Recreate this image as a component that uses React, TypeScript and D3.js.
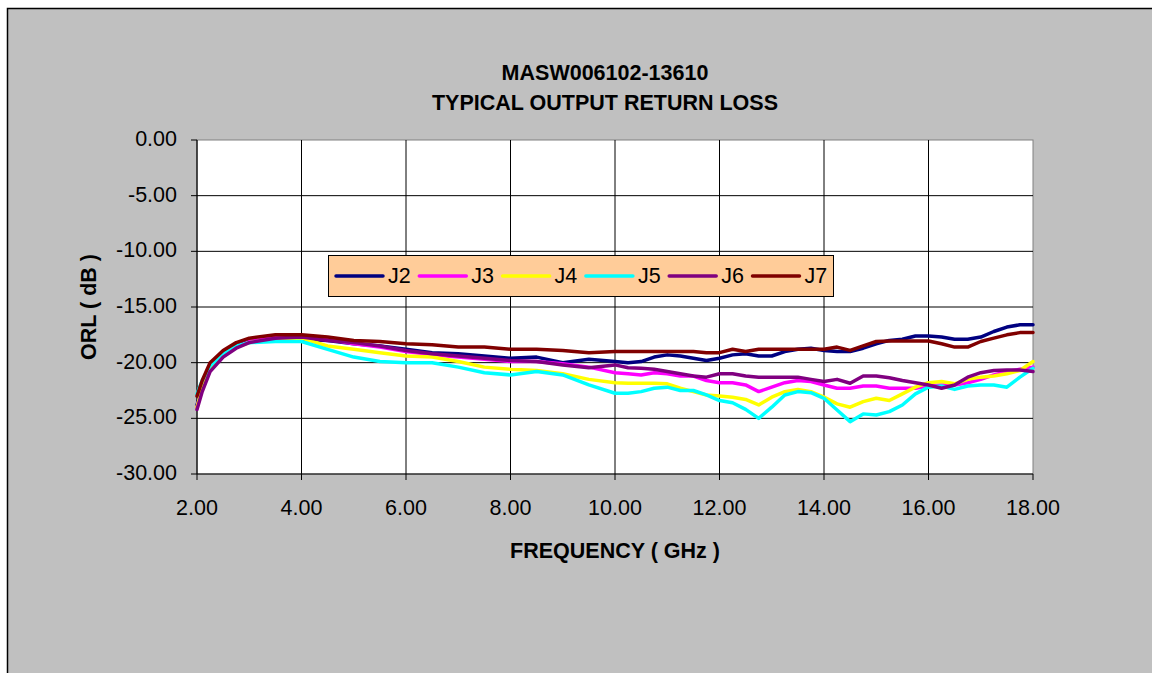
import React from "react";
import * as d3 from "d3";

const freqs = [2.0, 2.1, 2.25, 2.5, 2.75, 3.0, 3.5, 4.0, 4.5, 5.0, 5.5, 6.0, 6.5, 7.0, 7.5, 8.0, 8.5, 9.0, 9.5, 10.0, 10.25, 10.5, 10.75, 11.0, 11.25, 11.5, 11.75, 12.0, 12.25, 12.5, 12.75, 13.0, 13.25, 13.5, 13.75, 14.0, 14.25, 14.5, 14.75, 15.0, 15.25, 15.5, 15.75, 16.0, 16.25, 16.5, 16.75, 17.0, 17.25, 17.5, 17.75, 18.0];

const j2 = [-23.8, -22.2, -20.4, -19.2, -18.5, -18.1, -17.9, -17.9, -18.0, -18.3, -18.5, -18.8, -19.1, -19.2, -19.4, -19.6, -19.5, -20.0, -19.7, -19.9, -20.0, -19.9, -19.5, -19.3, -19.4, -19.6, -19.8, -19.6, -19.3, -19.2, -19.4, -19.4, -19.0, -18.8, -18.7, -18.9, -19.0, -19.0, -18.7, -18.3, -18.0, -17.9, -17.6, -17.6, -17.7, -17.9, -17.9, -17.7, -17.2, -16.8, -16.6, -16.6];
const j3 = [-24.0, -22.3, -20.5, -19.3, -18.6, -18.1, -17.7, -17.6, -17.9, -18.3, -18.6, -19.0, -19.3, -19.5, -19.7, -19.9, -19.9, -20.1, -20.4, -20.9, -21.0, -21.1, -20.9, -21.0, -21.2, -21.2, -21.6, -21.8, -21.8, -22.0, -22.6, -22.2, -21.8, -21.6, -21.7, -22.0, -22.3, -22.3, -22.1, -22.1, -22.3, -22.3, -22.3, -22.1, -22.0, -22.0, -21.8, -21.5, -21.1, -20.8, -20.6, -20.4];
const j4 = [-24.0, -22.3, -20.5, -19.3, -18.6, -18.2, -17.9, -17.8, -18.5, -18.8, -19.1, -19.4, -19.5, -19.9, -20.4, -20.6, -20.7, -21.0, -21.5, -21.8, -21.85, -21.85, -21.85, -21.9, -22.3, -22.6, -22.9, -23.0, -23.1, -23.3, -23.8, -23.1, -22.6, -22.4, -22.6, -23.1, -23.7, -24.0, -23.5, -23.2, -23.4, -22.8, -22.2, -21.8, -21.7, -21.9, -21.5, -21.3, -21.2, -21.0, -20.7, -19.9];
const j5 = [-22.8, -21.6, -20.3, -19.2, -18.5, -18.2, -18.1, -18.1, -18.8, -19.5, -19.9, -20.0, -20.0, -20.4, -20.9, -21.1, -20.8, -21.1, -22.0, -22.75, -22.75, -22.6, -22.3, -22.2, -22.5, -22.5, -22.9, -23.4, -23.6, -24.2, -25.0, -24.0, -22.9, -22.6, -22.7, -23.2, -24.25, -25.3, -24.6, -24.7, -24.4, -23.8, -22.8, -22.2, -22.1, -22.4, -22.1, -22.0, -22.0, -22.2, -21.3, -20.5];
const j6 = [-24.2, -22.6, -20.8, -19.5, -18.7, -18.2, -17.8, -17.7, -18.0, -18.2, -18.5, -18.9, -19.2, -19.4, -19.6, -19.8, -19.9, -20.2, -20.45, -20.2, -20.45, -20.5, -20.6, -20.8, -21.0, -21.2, -21.3, -21.0, -21.0, -21.2, -21.3, -21.3, -21.3, -21.3, -21.5, -21.7, -21.5, -21.85, -21.2, -21.2, -21.35, -21.6, -21.8, -22.0, -22.3, -22.0, -21.3, -20.9, -20.7, -20.65, -20.65, -20.8];
const j7 = [-23.0, -21.6, -20.0, -18.9, -18.2, -17.8, -17.5, -17.5, -17.7, -18.0, -18.1, -18.3, -18.4, -18.6, -18.6, -18.8, -18.8, -18.9, -19.1, -19.0, -19.0, -19.0, -19.0, -19.0, -19.0, -19.0, -19.1, -19.1, -18.8, -19.0, -18.8, -18.8, -18.8, -18.8, -18.8, -18.8, -18.6, -18.9, -18.5, -18.1, -18.05, -18.05, -18.05, -18.05, -18.3, -18.6, -18.6, -18.1, -17.8, -17.5, -17.3, -17.3];

const seriesNames = ["J2", "J3", "J4", "J5", "J6", "J7"];
const seriesValues = [j2, j3, j4, j5, j6, j7];
const seriesColors = ["#000080", "#FF00FF", "#FFFF00", "#00FFFF", "#800080", "#800000"];

const xTicks = [2, 4, 6, 8, 10, 12, 14, 16, 18];
const yTicks = [0, -5, -10, -15, -20, -25, -30];

const titleLines = ["MASW006102-13610", "TYPICAL OUTPUT RETURN LOSS"];
const xTitle = "FREQUENCY ( GHz )";
const yTitle = "ORL ( dB )";

const W = 1152;
const H = 673;
const plot = { left: 197, right: 1033, top: 140, bottom: 474 };
const FONT = "'Liberation Sans', Arial, sans-serif";

export default function App() {
  const x = d3.scaleLinear().domain([2, 18]).range([plot.left, plot.right]);
  const y = d3.scaleLinear().domain([-30, 0]).range([plot.bottom, plot.top]);
  const line = d3
    .line<[number, number]>()
    .x((d) => x(d[0]))
    .y((d) => y(d[1]))
    .curve(d3.curveLinear);

  const legend = { x: 328, y: 255, w: 505, h: 41 };
  const legendStep = 83.3;

  return (
    <svg
      width={W}
      height={H}
      style={{ position: "absolute", left: 0, top: 0, display: "block" }}
      fontFamily={FONT}
    >
      <rect x={0} y={0} width={W} height={H} fill="#FFFFFF" />
      <rect x={7.5} y={8.5} width={W + 20} height={H + 20} fill="#C0C0C0" stroke="#000" strokeWidth={1.5} />

      {titleLines.map((t, i) => (
        <text key={t} x={605} y={80 + i * 30} textAnchor="middle" fontSize={21.5} fontWeight="bold" fill="#000">
          {t}
        </text>
      ))}

      <rect
        x={plot.left}
        y={plot.top}
        width={plot.right - plot.left}
        height={plot.bottom - plot.top}
        fill="#FFFFFF"
        stroke="#808080"
        strokeWidth={1}
      />

      {/* vertical gridlines */}
      {xTicks.slice(1, -1).map((t) => (
        <line key={"gx" + t} x1={x(t)} x2={x(t)} y1={plot.top} y2={plot.bottom} stroke="#000" strokeWidth={1} />
      ))}
      {/* horizontal gridlines */}
      {yTicks.slice(1, -1).map((t) => (
        <line key={"gy" + t} x1={plot.left} x2={plot.right} y1={y(t)} y2={y(t)} stroke="#000" strokeWidth={1} />
      ))}

      {/* axes */}
      <line x1={plot.left} x2={plot.left} y1={plot.top} y2={plot.bottom} stroke="#000" strokeWidth={1.2} />
      <line x1={plot.left} x2={plot.right} y1={plot.bottom} y2={plot.bottom} stroke="#000" strokeWidth={1.2} />

      {yTicks.map((t) => (
        <g key={"yt" + t}>
          <line x1={plot.left - 6} x2={plot.left} y1={y(t)} y2={y(t)} stroke="#000" strokeWidth={1} />
          <text x={177} y={y(t) + 6} textAnchor="end" fontSize={21.5} fill="#000">
            {t.toFixed(2)}
          </text>
        </g>
      ))}
      {xTicks.map((t) => (
        <g key={"xt" + t}>
          <line x1={x(t)} x2={x(t)} y1={plot.bottom} y2={plot.bottom + 6} stroke="#000" strokeWidth={1} />
          <text x={x(t)} y={515} textAnchor="middle" fontSize={21.5} fill="#000">
            {t.toFixed(2)}
          </text>
        </g>
      ))}

      <text x={(plot.left + plot.right) / 2} y={558} textAnchor="middle" fontSize={21.5} fontWeight="bold" fill="#000">
        {xTitle}
      </text>
      <text
        transform={`translate(${96}, ${(plot.top + plot.bottom) / 2}) rotate(-90)`}
        textAnchor="middle"
        fontSize={21.5}
        fontWeight="bold"
        fill="#000"
      >
        {yTitle}
      </text>

      {/* series */}
      <g>
        {seriesValues.map((vals, i) => (
          <path
            key={seriesNames[i]}
            d={line(freqs.map((f, k) => [f, vals[k]] as [number, number])) || ""}
            fill="none"
            stroke={seriesColors[i]}
            strokeWidth={3.5}
            strokeLinejoin="round"
            strokeLinecap="round"
          />
        ))}
      </g>

      {/* legend */}
      <rect x={legend.x + 0.5} y={legend.y + 0.5} width={legend.w} height={legend.h} fill="#FFCC99" stroke="#000" strokeWidth={1} />
      {seriesNames.map((n, i) => {
        const x0 = 336 + i * legendStep;
        return (
          <g key={"lg" + n}>
            <line x1={x0} x2={x0 + 47} y1={276} y2={276} stroke={seriesColors[i]} strokeWidth={3.5} strokeLinecap="round" />
            <text x={x0 + 52} y={283} fontSize={21.5} fill="#000">
              {n}
            </text>
          </g>
        );
      })}
    </svg>
  );
}
